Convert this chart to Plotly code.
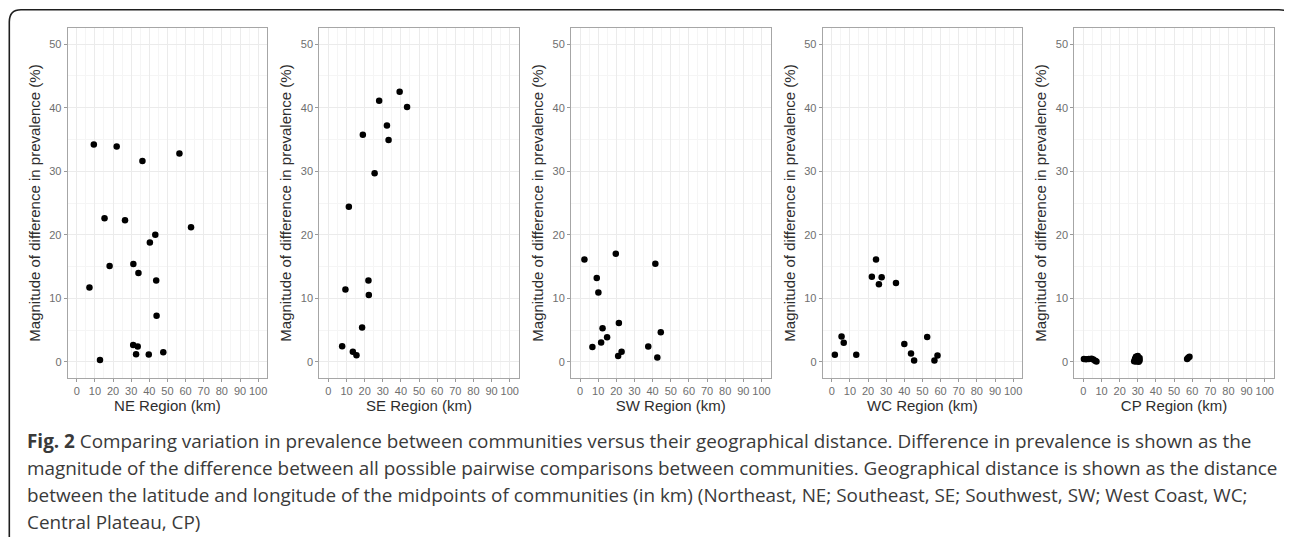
import plotly.graph_objects as go

W, H = 1292, 537
OFF = 8  # the page body adds an 8px margin; positions below are page pixels

# ---------------- data ----------------
regions = ["NE", "SE", "SW", "WC", "CP"]

ne_dist = [9.4, 22.0, 36.2, 56.6, 15.3, 26.6, 63.0, 43.3, 40.3, 18.1, 31.2,
           34.0, 43.8, 7.0, 44.0, 31.1, 33.6, 32.7, 39.7, 47.7, 12.8]
ne_diff = [34.2, 33.9, 31.6, 32.8, 22.6, 22.3, 21.2, 20.0, 18.8, 15.1, 15.4,
           14.0, 12.8, 11.7, 7.25, 2.66, 2.4, 1.2, 1.15, 1.5, 0.3]

se_dist = [7.6, 13.5, 15.5, 9.4, 18.6, 22.1, 22.3, 11.3, 25.5, 19.0, 32.3,
           33.2, 28.0, 39.3, 43.4]
se_diff = [2.45, 1.57, 1.04, 11.4, 5.4, 12.8, 10.5, 24.4, 29.7, 35.75, 37.2,
           34.9, 41.1, 42.5, 40.1]

sw_dist = [2.4, 19.7, 41.5, 9.2, 10.1, 21.4, 12.4, 44.5, 14.9, 11.6, 6.8,
           37.6, 22.9, 21.0, 42.6]
sw_diff = [16.1, 17.0, 15.45, 13.2, 10.9, 6.1, 5.3, 4.65, 3.86, 3.03, 2.35,
           2.4, 1.57, 0.9, 0.68]

wc_dist = [1.7, 5.4, 6.6, 13.5, 24.4, 22.1, 27.5, 26.0, 35.4, 40.0, 43.7,
           45.4, 52.6, 56.6, 58.3]
wc_diff = [1.1, 4.0, 3.0, 1.1, 16.1, 13.4, 13.3, 12.2, 12.4, 2.8, 1.3,
           0.2, 3.9, 0.2, 1.0]

cp_dist = [0.3, 1.5, 3.0, 4.5, 5.5, 6.5, 7.2, 28.0, 28.5, 29.0, 29.5, 30.0,
           30.5, 31.0, 31.0, 29.0, 30.0, 57.2, 57.8, 58.5]
cp_diff = [0.45, 0.4, 0.45, 0.5, 0.35, 0.15, 0.05, 0.1, 0.5, 0.8, 0.3, 0.9,
           0.0, 0.6, 0.2, 0.05, 0.45, 0.45, 0.65, 0.8]

series = [(ne_dist, ne_diff), (se_dist, se_diff), (sw_dist, sw_diff),
          (wc_dist, wc_diff), (cp_dist, cp_diff)]

x_ticks = [0, 10, 20, 30, 40, 50, 60, 70, 80, 90, 100]
y_ticks = [0, 10, 20, 30, 40, 50]

y_title = "Magnitude of difference in prevalence (%)"
caption_lines = [
    "<b>Fig. 2</b> Comparing variation in prevalence between communities versus their geographical distance. Difference in prevalence is shown as the",
    "magnitude of the difference between all possible pairwise comparisons between communities. Geographical distance is shown as the distance",
    "between the latitude and longitude of the midpoints of communities (in km) (Northeast, NE; Southeast, SE; Southwest, SW; West Coast, WC;",
    "Central Plateau, CP)",
]


def fx(x):
    return (x - OFF) / W


def fy(y):
    return 1 - (y - OFF) / H


# ---------------- layout ----------------
panel_left = [67.7, 319.3, 571.0, 822.7, 1074.3]
panel_w = 199.5
panel_top, panel_bot = 28.3, 377.7

fig = go.Figure()
layout = dict(
    width=W, height=H,
    margin=dict(l=0, r=0, t=0, b=0),
    paper_bgcolor="white", plot_bgcolor="white",
    showlegend=False,
    font=dict(family="Liberation Sans, Arial, sans-serif"),
)

for i, (reg, (xs, ys)) in enumerate(zip(regions, series)):
    n = "" if i == 0 else str(i + 1)
    fig.add_trace(go.Scatter(
        x=xs, y=ys, mode="markers",
        marker=dict(color="black", size=6.5),
        xaxis="x" + n, yaxis="y" + n, hoverinfo="skip",
    ))
    common = dict(
        showline=True, linecolor="#a6a6a6", linewidth=1, mirror=True,
        showgrid=True, gridcolor="#ebebeb", gridwidth=1,
        zeroline=False,
        ticks="outside", ticklen=3, tickcolor="#9a9a9a", tickwidth=1,
        tickfont=dict(size=11, color="#6e6e6e"),
        minor=dict(showgrid=True, gridcolor="#f5f5f5", gridwidth=1, dtick=5, ticks=""),
    )
    layout["xaxis" + n] = dict(
        common, domain=[fx(panel_left[i]), fx(panel_left[i] + panel_w)],
        anchor="y" + n, range=[-5, 105],
        tickvals=x_ticks, ticktext=[str(t) for t in x_ticks],
        title=dict(text=f"{reg} Region (km)", font=dict(size=15, color="#2e2e2e"), standoff=2),
    )
    layout["yaxis" + n] = dict(
        common, domain=[fy(panel_bot), fy(panel_top)], anchor="x" + n,
        range=[-2.5, 52.5],
        tickvals=y_ticks, ticktext=[str(t) for t in y_ticks],
        title=dict(text=y_title, font=dict(size=15, color="#2e2e2e"), standoff=5),
    )

fig.update_layout(**layout)

# caption
base_y = 441
for k, line in enumerate(caption_lines):
    fig.add_annotation(
        x=fx(25), y=fy(base_y + 27 * k), xref="paper", yref="paper",
        xanchor="left", yanchor="middle", showarrow=False, align="left",
        text=line, font=dict(family="Open Sans, sans-serif", size=18.9, color="#3a3a3a"),
    )


# frame (rounded, open on the right and bottom)
def px(x, y):
    return f"{fx(x):.5f},{fy(y):.5f}"


path = (f"M {px(9.3, 545)} L {px(9.3, 22)} Q {px(9.3, 9.7)} {px(21, 9.7)} "
        f"L {px(1279, 9.7)} Q {px(1289, 9.7)} {px(1291.5, 17)}")
fig.add_shape(type="path", path=path, xref="paper", yref="paper",
              line=dict(color="#1e1e1e", width=1.6))

fig.write_html("out.html")
